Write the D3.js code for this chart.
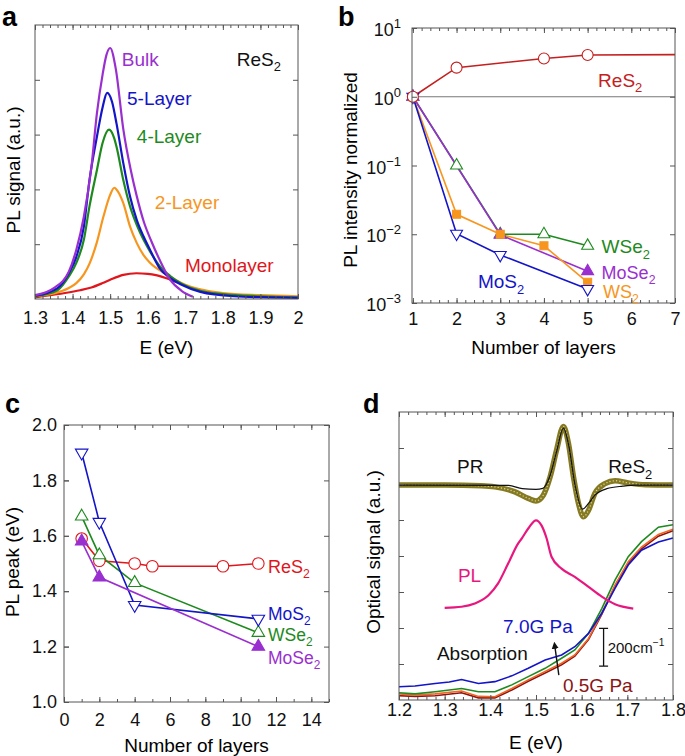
<!DOCTYPE html>
<html>
<head>
<meta charset="utf-8">
<script src="https://cdn.jsdelivr.net/npm/d3@7"></script>
<style>
  body { margin: 0; background: #fff; }
  svg text { font-family: "Liberation Sans", Arial, Helvetica, sans-serif; }
  .tk text { font-size: 18px; fill: #111; }
  .tk line { stroke: #555; }
</style>
</head>
<body>
<svg id="fig" width="685" height="756"></svg>
<script>
// ---- panel a: PL spectra of ReS2, [E (eV), signal (a.u.)]
const plBulk = [[1.30,0.07],[1.35,0.2],[1.39,0.5],[1.41,0.9],[1.43,1.5],[1.45,2.4],[1.465,3.4],[1.48,4.1],[1.49,4.45],[1.50,4.58],[1.515,4.2],[1.535,3.1],[1.555,2.35],[1.57,1.9],[1.59,1.4],[1.61,1.05],[1.632,0.71],[1.66,0.35],[1.69,0.15],[1.72,0.04]]
const plFive = [[1.30,0.06],[1.36,0.2],[1.39,0.47],[1.41,0.77],[1.43,1.32],[1.445,2.17],[1.465,2.97],[1.48,3.5],[1.492,3.76],[1.505,3.6],[1.517,3.2],[1.535,2.48],[1.553,1.87],[1.571,1.44],[1.589,1.14],[1.606,0.9],[1.632,0.56],[1.66,0.38],[1.69,0.26],[1.74,0.13],[1.83,0.05],[1.92,0.03],[2.0,0.02]]
const plFour = [[1.30,0.05],[1.36,0.16],[1.39,0.41],[1.41,0.66],[1.43,1.08],[1.445,1.69],[1.465,2.36],[1.48,2.85],[1.497,3.09],[1.51,2.95],[1.517,2.78],[1.535,2.17],[1.553,1.69],[1.571,1.35],[1.589,1.08],[1.606,0.87],[1.632,0.6],[1.66,0.42],[1.69,0.28],[1.74,0.15],[1.8,0.09],[1.9,0.05],[2.0,0.03]]
const plTwo = [[1.30,0.05],[1.35,0.1],[1.39,0.2],[1.41,0.29],[1.43,0.45],[1.446,0.66],[1.464,1.02],[1.482,1.5],[1.50,1.9],[1.511,2.03],[1.52,1.97],[1.535,1.75],[1.553,1.32],[1.571,1.02],[1.589,0.8],[1.606,0.66],[1.65,0.45],[1.7,0.26],[1.8,0.11],[1.9,0.07],[2.0,0.05]]
const plMono = [[1.30,0.03],[1.34,0.07],[1.38,0.11],[1.42,0.16],[1.45,0.21],[1.48,0.29],[1.50,0.35],[1.535,0.44],[1.57,0.47],[1.60,0.46],[1.625,0.43],[1.65,0.38],[1.68,0.3]]
const aTicksX = [1.3,1.4,1.5,1.6,1.7,1.8,1.9,2.0]

// ---- panel b: normalized PL intensity vs layers
const layersRes = [1,2,4,5,7]
const intensityRes = [1,2.65,3.6,4.05,4.1]
const layersWSe2 = [1,2,3,4,5]
const intensityWSe2 = [1,0.1,0.01,0.01,0.0068]
const layersMoSe2 = [1,3,5]
const intensityMoSe2 = [1,0.0098,0.0029]
const layersWS2 = [1,2,3,4,5]
const intensityWS2 = [1,0.0195,0.01,0.0068,0.002]
const layersMoS2 = [1,2,3,5]
const intensityMoS2 = [1,0.0102,0.005,0.0016]
const bTicksX = [1,2,3,4,5,6,7]
const bTicksY = [1e-3,1e-2,1e-1,1,10]

// ---- panel c: PL peak vs layers
const peakLayersRes = [1,2,4,5,9,11]
const peakRes = [1.59,1.51,1.50,1.49,1.49,1.50]
const peakLayersMoS2 = [1,2,4,11]
const peakMoS2 = [1.90,1.65,1.35,1.30]
const peakLayersWSe2 = [1,2,4,11]
const peakWSe2 = [1.67,1.53,1.43,1.25]
const peakLayersMoSe2 = [1,2,11]
const peakMoSe2 = [1.58,1.45,1.20]
const cTicksX = [0,2,4,6,8,10,12,14]
const cTicksY = [1.0,1.2,1.4,1.6,1.8,2.0]

// ---- panel d: PR, PL and absorption, [E (eV), offset signal]
const prSignal = [[1.20,5.97],[1.30,5.97],[1.38,5.95],[1.41,5.92],[1.454,5.78],[1.483,5.6],[1.50,5.53],[1.516,5.69],[1.531,6.2],[1.545,6.94],[1.56,7.6],[1.571,7.13],[1.582,6.2],[1.593,5.46],[1.604,5.09],[1.615,5.27],[1.629,5.74],[1.651,6.01],[1.673,6.09],[1.702,6.03],[1.74,5.98],[1.80,5.97]]
const prFit = [[1.20,5.97],[1.44,5.96],[1.47,5.87],[1.50,5.85],[1.515,5.88],[1.53,6.2],[1.545,6.9],[1.56,7.55],[1.572,7.05],[1.585,6.0],[1.602,5.3],[1.615,5.46],[1.629,5.69],[1.655,5.87],[1.69,5.94],[1.72,5.97],[1.80,5.97]]
const plD = [[1.30,2.56],[1.337,2.59],[1.366,2.68],[1.396,2.91],[1.417,3.24],[1.439,3.79],[1.461,4.35],[1.469,4.49],[1.485,4.8],[1.50,4.99],[1.512,4.85],[1.523,4.5],[1.534,3.98],[1.556,3.65],[1.585,3.42],[1.615,3.14],[1.644,2.87],[1.673,2.66],[1.713,2.54]]
const absBlue = [[1.20,0.37],[1.235,0.39],[1.279,0.46],[1.31,0.5],[1.337,0.57],[1.374,0.46],[1.41,0.51],[1.447,0.67],[1.483,0.88],[1.52,1.11],[1.556,1.25],[1.585,1.48],[1.615,1.85],[1.644,2.41],[1.673,3.1],[1.702,3.75],[1.731,4.16],[1.768,4.39],[1.80,4.5]]
const absGreen = [[1.20,0.2],[1.235,0.17],[1.279,0.23],[1.337,0.32],[1.374,0.23],[1.41,0.23],[1.447,0.42],[1.483,0.65],[1.52,0.88],[1.556,1.16],[1.585,1.39],[1.615,1.85],[1.644,2.54],[1.673,3.33],[1.702,3.98],[1.731,4.4],[1.768,4.8],[1.80,4.87]]
const absOrange = [[1.20,0.17],[1.235,0.14],[1.279,0.17],[1.337,0.25],[1.374,0.1],[1.41,0.09],[1.447,0.32],[1.483,0.56],[1.52,0.79],[1.556,1.02],[1.585,1.25],[1.615,1.71],[1.644,2.41],[1.673,3.19],[1.702,3.84],[1.731,4.25],[1.768,4.6],[1.80,4.74]]
const absRed = [[1.20,0.12],[1.235,0.1],[1.279,0.12],[1.337,0.2],[1.374,0.06],[1.41,0.06],[1.447,0.28],[1.483,0.52],[1.52,0.75],[1.556,0.98],[1.585,1.22],[1.615,1.68],[1.644,2.38],[1.673,3.16],[1.702,3.8],[1.731,4.2],[1.768,4.55],[1.80,4.7]]
const dTicksX = [1.2,1.3,1.4,1.5,1.6,1.7,1.8]

const C = {
  purple: '#9a2fd0', blue: '#1414c8', green: '#1e8a1e', orange: '#f7961e',
  red: '#e0161c', darkRed: '#c42020', olive: '#857a22', pink: '#e8177f',
  absOrange: '#f26522', absRed: '#8b1414'
}

const svg = d3.select('#fig')

// text with _x subscripts and ^x superscripts
function rich(text, str, fs) {
  const parts = str.split(/([_^](?:\{[^}]*\}|.))/).filter(s => s)
  let shift = 0
  parts.forEach(p => {
    if (p[0] === '_' || p[0] === '^') {
      const d = p[0] === '_' ? fs * 0.28 : -fs * 0.42
      text.append('tspan').attr('dy', d - shift).attr('font-size', fs * 0.68)
        .text(p.slice(1).replace(/[{}]/g, ''))
      shift = d
    } else {
      text.append('tspan').attr('dy', -shift).text(p)
      shift = 0
    }
  })
  return text
}

function label(g, x, y, str, color, fs = 19, anchor = 'start') {
  const t = g.append('text')
    .attr('x', x).attr('y', y + fs * 0.35)
    .attr('font-size', fs).attr('fill', color).attr('text-anchor', anchor)
  return rich(t, str, fs)
}

// frame + inward ticks on all four sides, labels at bottom (and optionally left)
function frame(g, x, y, o) {
  const [left, right] = x.range()
  const [bottom, top] = y.range()
  const ticks = (axis, vals, size, tr) => g.append('g').attr('class', 'tk')
    .attr('transform', tr)
    .call(axis.tickValues(vals).tickSize(size).tickFormat(''))
    .call(s => s.select('.domain').remove())

  if (o.xMinor) {
    ticks(d3.axisBottom(x), o.xMinor, -3, `translate(0,${bottom})`)
    ticks(d3.axisTop(x), o.xMinor, -3, `translate(0,${top})`)
  }
  ticks(d3.axisTop(x), o.xMajor, -5, `translate(0,${top})`)
  ticks(d3.axisLeft(y), o.yMajor, -5, `translate(${left},0)`)
  ticks(d3.axisRight(y), o.yMajor, -5, `translate(${right},0)`)

  g.append('g').attr('class', 'tk')
    .attr('transform', `translate(0,${bottom})`)
    .call(d3.axisBottom(x).tickValues(o.xMajor).tickSizeInner(-5).tickSizeOuter(0)
      .tickPadding(o.xPad).tickFormat(o.xFormat))
    .call(s => s.select('.domain').remove())

  if (o.yFormat) {
    g.append('g').attr('class', 'tk')
      .attr('transform', `translate(${left},0)`)
      .call(d3.axisLeft(y).tickValues(o.yMajor).tickSizeInner(-5).tickSizeOuter(0)
        .tickPadding(o.yPad).tickFormat(o.yFormat))
      .call(s => s.select('.domain').remove())
  }

  g.append('rect')
    .attr('x', left).attr('y', top)
    .attr('width', right - left).attr('height', bottom - top)
    .attr('fill', 'none').attr('stroke', '#555').attr('stroke-width', 1)

  g.append('text')
    .attr('x', (left + right) / 2).attr('y', bottom + o.xTitleGap)
    .attr('dy', '0.35em').attr('text-anchor', 'middle').attr('font-size', 19)
    .text(o.xTitle)
  g.append('text')
    .attr('transform', `translate(${o.yTitleX},${o.yTitleY}) rotate(-90)`)
    .attr('dy', '0.35em').attr('text-anchor', 'middle').attr('font-size', 19)
    .text(o.yTitle)
}

function panelLetter(x, y, s) {
  svg.append('text').attr('x', x).attr('y', y)
    .attr('font-size', 27).attr('font-weight', 'bold').text(s)
}

const range = (a, b, step) => d3.range(Math.round((b - a) / step) + 1).map(i => +(a + i * step).toFixed(4))

function drawSeries(g, x, y, series, width, scale) {
  const line = d3.line().x(d => x(d[0])).y(d => y(d[1]))
  const symbols = {
    circle: [d3.symbolCircle, 95, 0],
    triUp: [d3.symbolTriangle, 62, 0],
    triDown: [d3.symbolTriangle, 62, 180],
    square: [d3.symbolSquare, 64, 0]
  }
  series.forEach(s => {
    const pts = s.n.map((n, i) => [n, s.v[i]])
    g.append('path').datum(pts).attr('d', line)
      .attr('fill', 'none').attr('stroke', s.color).attr('stroke-width', width)
  })
  series.forEach(s => {
    const pts = s.n.map((n, i) => [n, s.v[i]])
    const marks = s.noMarkLast ? pts.slice(0, -1) : pts
    const [type, size, rot] = symbols[s.sym]
    g.selectAll(null).data(marks).enter().append('path')
      .attr('d', d3.symbol().type(type).size(size * scale))
      .attr('transform', d => `translate(${x(d[0])},${y(d[1])}) rotate(${rot})`)
      .attr('fill', s.fill).attr('stroke', s.color).attr('stroke-width', 1.1)
  })
}

// ================= panel a =================
{
  const g = svg.append('g')
  const x = d3.scaleLinear().domain([1.3, 2.0]).range([35, 298])
  const y = d3.scaleLinear().domain([0, 5]).range([299, 25])
  const line = d3.line().x(d => x(d[0])).y(d => y(d[1])).curve(d3.curveMonotoneX)

  const spectra = [[plMono, C.red], [plTwo, C.orange], [plFour, C.green], [plFive, C.blue], [plBulk, C.purple]]
  spectra.forEach(([data, color]) => {
    g.append('path').datum(data).attr('d', line)
      .attr('fill', 'none').attr('stroke', color).attr('stroke-width', 2.2)
  })

  frame(g, x, y, {
    xMajor: aTicksX, xMinor: range(1.3, 2.0, 0.02), yMajor: [1, 2, 3, 4],
    xPad: 12, xFormat: d => d === 2 ? '2' : d3.format('.1f')(d),
    xTitle: 'E (eV)', xTitleGap: 48,
    yTitle: 'PL signal (a.u.)', yTitleX: 13, yTitleY: 170
  })

  label(g, x(1.531), y(4.37), 'Bulk', C.purple)
  label(g, x(1.545), y(3.67), '5-Layer', C.blue)
  label(g, x(1.571), y(2.96), '4-Layer', C.green)
  label(g, x(1.619), y(1.77), '2-Layer', C.orange)
  label(g, x(1.699), y(0.62), 'Monolayer', C.red)
  label(g, x(1.837), y(4.37), 'ReS_2', '#111')
  panelLetter(2, 26, 'a')
}

// ================= panel b =================
{
  const g = svg.append('g')
  const x = d3.scaleLinear().domain([0.98, 7]).range([412, 675])
  const y = d3.scaleLog().domain([1e-3, 10]).range([303, 28])

  g.append('line')
    .attr('x1', x.range()[0]).attr('x2', x.range()[1])
    .attr('y1', y(1)).attr('y2', y(1))
    .attr('stroke', '#777').attr('stroke-width', 1)

  const series = [
    { n: layersWSe2, v: intensityWSe2, color: C.green, sym: 'triUp', fill: 'white' },
    { n: layersMoSe2, v: intensityMoSe2, color: C.purple, sym: 'triUp', fill: C.purple },
    { n: layersWS2, v: intensityWS2, color: C.orange, sym: 'square', fill: C.orange },
    { n: layersMoS2, v: intensityMoS2, color: C.blue, sym: 'triDown', fill: 'white' },
    { n: layersRes, v: intensityRes, color: C.darkRed, sym: 'circle', fill: 'white', noMarkLast: true }
  ]
  drawSeries(g, x, y, series, 1.6, 1)

  frame(g, x, y, {
    xMajor: bTicksX, xMinor: range(1, 7, 0.2), yMajor: bTicksY,
    xPad: 9, xFormat: d3.format('d'),
    xTitle: 'Number of layers', xTitleGap: 44,
    yTitle: 'PL intensity normalized', yTitleX: 350, yTitleY: 170
  })

  bTicksY.forEach(d => {
    const t = g.append('text').attr('class', 'tk')
      .attr('x', x.range()[0] - 11).attr('y', y(d) + 8)
      .attr('text-anchor', 'end').attr('font-size', 18).attr('fill', '#111')
    t.append('tspan').text('10')
    t.append('tspan').attr('dy', -8).attr('font-size', 13)
      .text(String(Math.round(Math.log10(d))).replace('-', '\u2212'))
  })

  label(g, x(5.24), y(1.75), 'ReS_2', C.darkRed)
  label(g, x(5.32), y(0.0066), 'WSe_2', C.green)
  label(g, x(5.32), y(0.0028), 'MoSe_2', C.purple, 18)
  label(g, x(5.35), y(0.00145), 'WS_2', C.orange, 18)
  label(g, x(2.49), y(0.00204), 'MoS_2', C.blue)
  panelLetter(338, 26, 'b')
}

// ================= panel c =================
{
  const g = svg.append('g')
  const x = d3.scaleLinear().domain([0, 15]).range([64, 329])
  const y = d3.scaleLinear().domain([1, 2]).range([702, 425])

  const series = [
    { n: peakLayersRes, v: peakRes, color: C.red, sym: 'circle', fill: 'white' },
    { n: peakLayersWSe2, v: peakWSe2, color: C.green, sym: 'triUp', fill: 'white' },
    { n: peakLayersMoS2, v: peakMoS2, color: C.blue, sym: 'triDown', fill: 'white' },
    { n: peakLayersMoSe2, v: peakMoSe2, color: C.purple, sym: 'triUp', fill: C.purple }
  ]
  drawSeries(g, x, y, series, 1.6, 1.1)

  frame(g, x, y, {
    xMajor: cTicksX, xMinor: range(0, 15, 1), yMajor: cTicksY,
    xPad: 11, xFormat: d3.format('d'),
    yPad: 7, yFormat: d3.format('.1f'),
    xTitle: 'Number of layers', xTitleGap: 43,
    yTitle: 'PL peak (eV)', yTitleX: 12, yTitleY: 562
  })

  label(g, x(11.55), y(1.488), 'ReS_2', C.red, 18)
  label(g, x(11.55), y(1.318), 'MoS_2', C.blue, 17.5)
  label(g, x(11.55), y(1.243), 'WSe_2', C.green, 17.5)
  label(g, x(11.55), y(1.158), 'MoSe_2', C.purple, 17.5)
  panelLetter(5, 413, 'c')
}

// ================= panel d =================
{
  const g = svg.append('g')
  const x = d3.scaleLinear().domain([1.2, 1.8]).range([399, 673])
  const y = d3.scaleLinear().domain([0, 8]).range([700, 412])
  const smooth = d3.line().x(d => x(d[0])).y(d => y(d[1])).curve(d3.curveMonotoneX)
  const rough = d3.line().x(d => x(d[0])).y(d => y(d[1])).curve(d3.curveLinear)

  const absorption = [[absRed, C.absRed], [absOrange, C.absOrange], [absGreen, C.green], [absBlue, C.blue]]
  absorption.forEach(([data, color]) => {
    g.append('path').datum(data).attr('d', rough)
      .attr('fill', 'none').attr('stroke', color).attr('stroke-width', 1.6)
  })

  g.append('path').datum(plD).attr('d', smooth)
    .attr('fill', 'none').attr('stroke', C.pink).attr('stroke-width', 2.2)

  // PR data drawn as a chain of small open circles
  g.append('path').datum(prSignal).attr('d', smooth)
    .attr('fill', 'none').attr('stroke', C.olive).attr('stroke-width', 5.5)
    .attr('stroke-linejoin', 'round')
  g.append('path').datum(prSignal).attr('d', smooth)
    .attr('fill', 'none').attr('stroke', '#d9d29c').attr('stroke-width', 1.4)
    .attr('stroke-linecap', 'round').attr('stroke-dasharray', '0.01 3.3')
  g.append('path').datum(prFit).attr('d', smooth)
    .attr('fill', 'none').attr('stroke', '#111').attr('stroke-width', 1.2)

  frame(g, x, y, {
    xMajor: dTicksX, xMinor: range(1.2, 1.8, 0.02), yMajor: [1, 2, 3, 4, 5, 6, 7],
    xPad: 3, xFormat: d3.format('.1f'),
    xTitle: 'E (eV)', xTitleGap: 42,
    yTitle: 'Optical signal (a.u.)', yTitleX: 373, yTitleY: 552
  })

  // 200 cm^-1 scale bar
  const bx = x(1.648)
  g.append('path')
    .attr('d', `M${bx - 4.5},${y(1.99)}H${bx + 4.5}M${bx},${y(1.99)}V${y(0.94)}M${bx - 4.5},${y(0.94)}H${bx + 4.5}`)
    .attr('stroke', '#111').attr('stroke-width', 1.3).attr('fill', 'none')
  label(g, x(1.657), y(1.46), '200cm^{\u22121}', '#111', 15)

  // pressure arrow
  svg.append('defs').append('marker')
    .attr('id', 'arrowHead').attr('viewBox', '0 0 10 10').attr('refX', 5).attr('refY', 5)
    .attr('markerWidth', 7).attr('markerHeight', 9).attr('orient', 'auto-start-reverse')
    .attr('markerUnits', 'userSpaceOnUse')
    .append('path').attr('d', 'M0,0L10,5L0,10Z').attr('fill', '#111')
  g.append('line')
    .attr('x1', x(1.550)).attr('y1', y(0.69))
    .attr('x2', x(1.541)).attr('y2', y(1.52))
    .attr('stroke', '#111').attr('stroke-width', 1.4)
    .attr('marker-end', 'url(#arrowHead)')

  label(g, x(1.327), y(6.48), 'PR', '#111')
  label(g, x(1.658), y(6.48), 'ReS_2', '#111')
  label(g, x(1.329), y(3.47), 'PL', C.pink)
  label(g, x(1.428), y(2.05), '7.0G Pa', C.blue)
  label(g, x(1.283), y(1.30), 'Absorption', '#111')
  label(g, x(1.559), y(0.42), '0.5G Pa', C.absRed)
  panelLetter(363, 413, 'd')
}
</script>
</body>
</html>
